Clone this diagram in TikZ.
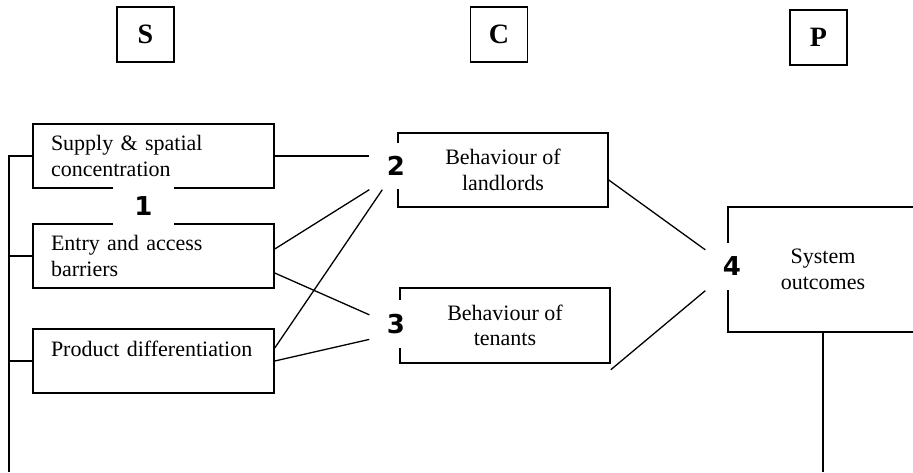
\documentclass[tikz,border=0pt]{standalone}
\usepackage{fontspec}
\setmainfont{Liberation Serif}
\newfontfamily\numfont{DejaVu Sans}
\usepackage{tikz}
\usetikzlibrary{positioning, calc}

\begin{document}
\begin{tikzpicture}[
    x=1pt, y=-1pt,
    every path/.style={line width=1.3pt},
    scp/.style={draw, line width=1.5pt, minimum width=57pt, minimum height=55pt, inner sep=0pt, font=\fontsize{28}{32}\selectfont\bfseries},
    sbox/.style={draw, line width=1.5pt, minimum width=241pt, minimum height=64pt, text width=205pt, inner xsep=18pt, inner ysep=0pt, align=left, font=\fontsize{22}{25.5}\selectfont},
    cbox/.style={draw, line width=1.5pt, minimum width=210pt, minimum height=74pt, align=center, font=\fontsize{22}{25.5}\selectfont},
    pbox/.style={draw, line width=1.5pt, minimum width=190pt, minimum height=125pt, align=center, font=\fontsize{22}{25.5}\selectfont},
    num/.style={fill=white, inner sep=0pt, font=\fontsize{26}{28}\selectfont\numfont\bfseries}]
  \useasboundingbox (0,0) rectangle (913,472);
  % column headers
  \node[scp] (hs) at (145.5,34.5) {S};
  \node[scp] (hc) at (499,34.5) {C};
  \node[scp] (hp) at (818.5,37.5) {P};
  % structure
  \node[sbox] (supply) at (153.5,156) {Supply \& spatial\\concentration};
  \node[sbox] (entry) at (153.5,256) {Entry and access\\barriers};
  \node[sbox] (product) at (153.5,361) {Product differentiation\\\mbox{}};
  % conduct
  \node[cbox] (landlords) at (503,170) {Behaviour of\\landlords};
  \node[cbox, minimum height=75pt] (tenants) at (505,325.5) {Behaviour of\\tenants};
  % performance
  \node[pbox] (system) at (823,269.5) {System\\outcomes};
  % numbers
  \node[num, minimum width=61pt, minimum height=44pt] (n1) at (143.5,206) {1};
  \node[num, minimum width=52pt, minimum height=46pt] (n2) at (396,166) {2};
  \node[num, minimum width=52pt, minimum height=48pt] (n3) at (396,324) {3};
  \node[num, minimum width=52pt, minimum height=47pt] (n4) at (732,266.5) {4};
  \coordinate (busbot) at (9,472);
  % links
  \draw (supply.east) -- (n2.west |- supply.east);
  \draw ([yshift=7pt]entry.east) -- (n2.south west);
  \draw ([yshift=-17pt]entry.east) -- (n3.161);
  \draw ([yshift=13pt]product.east) -- ([xshift=13pt]n2.south west);
  \draw (product.east) -- (n3.210);
  \draw ([yshift=-10pt]landlords.east) -- (n4.148);
  \draw ([yshift=-6pt]tenants.south east) -- (n4.south west);
  % feedback lines
  \draw (supply.west) -- (supply.west -| busbot) -- (busbot);
  \draw (entry.west) -- (entry.west -| busbot);
  \draw (product.west) -- (product.west -| busbot);
  \draw (system.south) -- (system.south |- busbot);
\end{tikzpicture}
\end{document}
